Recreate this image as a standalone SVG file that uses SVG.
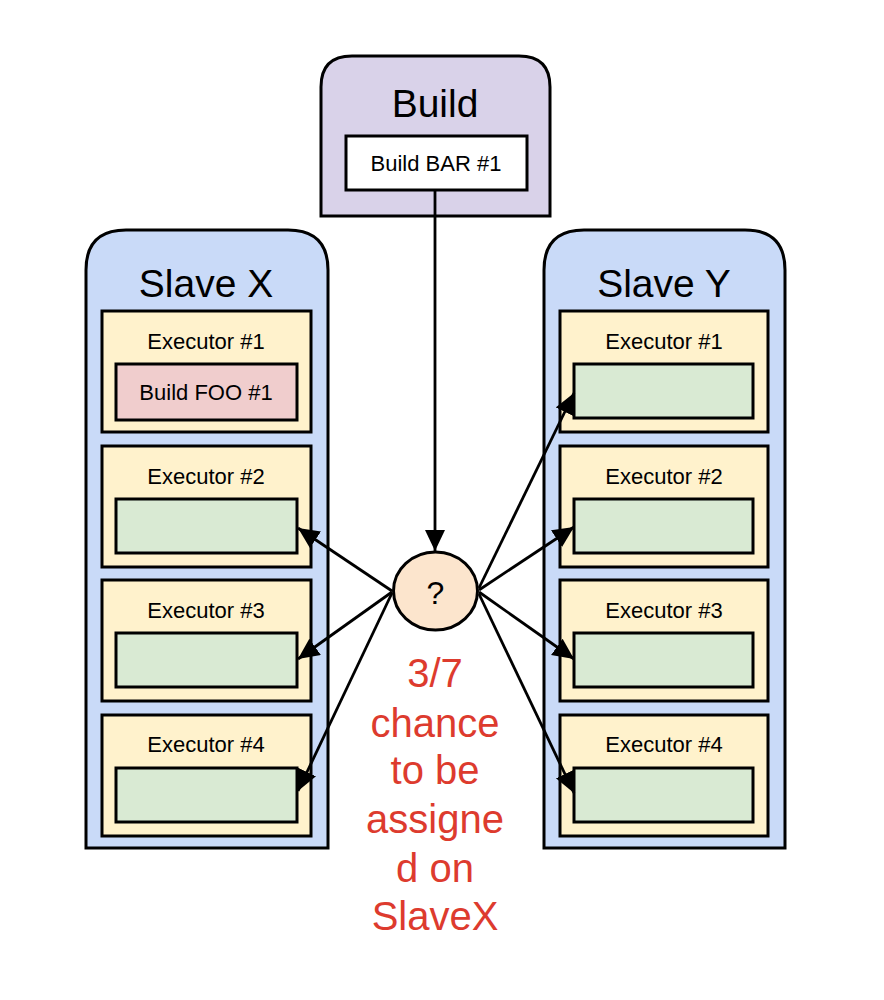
<svg xmlns="http://www.w3.org/2000/svg" width="884" height="1000" viewBox="0 0 884 1000">
<style>
.box{stroke:#000;stroke-width:3}
.outer{stroke:#000;stroke-width:3}
.exec{fill:#fff2cc;stroke:#000;stroke-width:3}
.slot{fill:#d9ead3;stroke:#000;stroke-width:3}
.t{font-family:"Liberation Sans",Arial,sans-serif;fill:#000;text-anchor:middle}
.big{font-size:39px}
.sm{font-size:22px}
.red{font-family:"Liberation Sans",Arial,sans-serif;fill:#dd3b2e;font-size:40px;text-anchor:middle}
.conn{stroke:#000;stroke-width:2.8;fill:none;marker-end:url(#ah)}
</style>
<defs>
<marker id="ah" markerUnits="userSpaceOnUse" markerWidth="24" markerHeight="22" refX="21" refY="10" orient="auto">
<path d="M0,0 L21,10 L0,20 Z" fill="#000"/>
</marker>
</defs>
<rect width="884" height="1000" fill="#fff"/>

<g id="build">
<path class="outer" fill="#d9d2e9" d="M321,216 V87 Q321,56 352,56 H519 Q550,56 550,87 V216 Z"/>
<text class="t big" x="435" y="117">Build</text>
<rect class="box" fill="#fff" x="346" y="136" width="181" height="54"/>
<text class="t sm" x="436" y="171">Build BAR #1</text>
</g>

<g id="slaveX">
<path class="outer" fill="#c9daf8" d="M86,848 V270 Q86,230 126,230 H288 Q328,230 328,270 V848 Z"/>
<text class="t big" x="206" y="297">Slave X</text>
<g id="x-exec1">
<rect class="exec" x="102" y="311" width="209" height="121"/>
<text class="t sm" x="206" y="349">Executor #1</text>
<rect class="box" fill="#f0cdcd" x="116" y="364" width="181" height="56"/>
<text class="t sm" x="206" y="400">Build FOO #1</text>
</g>
<g id="x-exec2">
<rect class="exec" x="102" y="446" width="209" height="121"/>
<text class="t sm" x="206" y="484">Executor #2</text>
<rect class="slot" x="116" y="499" width="181" height="54"/>
</g>
<g id="x-exec3">
<rect class="exec" x="102" y="580" width="209" height="121"/>
<text class="t sm" x="206" y="618">Executor #3</text>
<rect class="slot" x="116" y="633" width="181" height="54"/>
</g>
<g id="x-exec4">
<rect class="exec" x="102" y="715" width="209" height="121"/>
<text class="t sm" x="206" y="752">Executor #4</text>
<rect class="slot" x="116" y="768" width="181" height="54"/>
</g>
</g>

<g id="slaveY">
<path class="outer" fill="#c9daf8" d="M544,848 V270 Q544,230 584,230 H745 Q785,230 785,270 V848 Z"/>
<text class="t big" x="664" y="297">Slave Y</text>
<g id="y-exec1">
<rect class="exec" x="560" y="311" width="208" height="121"/>
<text class="t sm" x="664" y="349">Executor #1</text>
<rect class="slot" x="574" y="364" width="179" height="54"/>
</g>
<g id="y-exec2">
<rect class="exec" x="560" y="446" width="208" height="121"/>
<text class="t sm" x="664" y="484">Executor #2</text>
<rect class="slot" x="574" y="499" width="179" height="54"/>
</g>
<g id="y-exec3">
<rect class="exec" x="560" y="580" width="208" height="121"/>
<text class="t sm" x="664" y="618">Executor #3</text>
<rect class="slot" x="574" y="633" width="179" height="54"/>
</g>
<g id="y-exec4">
<rect class="exec" x="560" y="715" width="208" height="121"/>
<text class="t sm" x="664" y="752">Executor #4</text>
<rect class="slot" x="574" y="768" width="179" height="54"/>
</g>
</g>

<g id="chooser">
<ellipse cx="435.5" cy="591" rx="42" ry="39" fill="#fce5cd" stroke="#000" stroke-width="3"/>
<text class="t" font-size="32" x="435.5" y="604">?</text>
</g>

<g id="connectors">
<line class="conn" x1="435" y1="190" x2="435" y2="551"/>
<line class="conn" x1="392" y1="591" x2="298" y2="528"/>
<line class="conn" x1="392" y1="592" x2="298" y2="659"/>
<line class="conn" x1="392" y1="593" x2="298" y2="791"/>
<line class="conn" x1="479" y1="588" x2="574" y2="393"/>
<line class="conn" x1="479" y1="590" x2="574" y2="527"/>
<line class="conn" x1="479" y1="592" x2="574" y2="659"/>
<line class="conn" x1="479" y1="594" x2="574" y2="793"/>
</g>

<g id="label">
<text class="red" x="435" y="687">3/7</text>
<text class="red" x="435" y="737">chance</text>
<text class="red" x="435" y="784">to be</text>
<text class="red" x="435" y="833">assigne</text>
<text class="red" x="435" y="882">d on</text>
<text class="red" x="435" y="930">SlaveX</text>
</g>
</svg>
